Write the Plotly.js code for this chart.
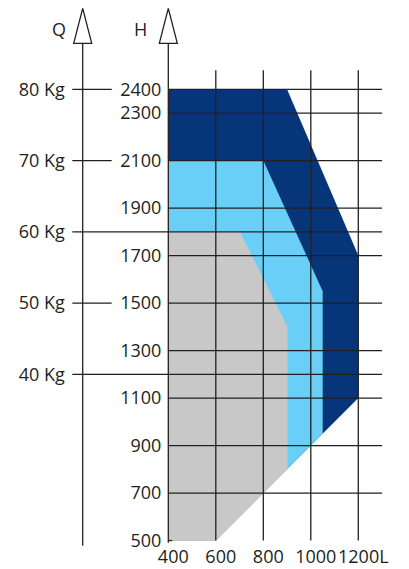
<!DOCTYPE html>
<html>
<head>
<meta charset="utf-8">
<script src="https://cdn.plot.ly/plotly-3.0.1.min.js"></script>
<style>html,body{margin:0;padding:0;background:#fff;}#chart{width:409px;height:569px;}</style>
</head>
<body>
<div id="chart"></div>
<script>
// ---- data ----
const L_TICKS  = [400, 600, 800, 1000, 1200];
const L_LABELS = ['400', '600', '800', '1000', '1200L'];
const H_TICKS  = [500, 700, 900, 1100, 1300, 1500, 1700, 1900, 2100, 2300, 2400];
const Q_TICKS  = [40, 50, 60, 70, 80];
const Q_LABELS = ['40 Kg', '50 Kg', '60 Kg', '70 Kg', '80 Kg'];
const Q_AT_H   = [1200, 1500, 1800, 2100, 2400];   // H level of each Q mark
const Q_LONG   = [40, 60];                         // Q marks whose line crosses the chart

// envelopes (L, H)
const DARK_L  = [400, 600, 1200, 1200, 900, 400];
const DARK_H  = [500, 500, 1100, 1700, 2400, 2400];
const LIGHT_L = [400, 600, 1050, 1050, 800, 400];
const LIGHT_H = [500, 500, 950, 1550, 2100, 2100];
const GRAY_L  = [400, 600, 900, 900, 700, 400];
const GRAY_H  = [500, 500, 800, 1400, 1800, 1800];

// ---- layout geometry ----
const W = 409, HT = 569;
const PX = 0.2375;                 // pixels per unit, both axes
const X0 = 168.3, Y500 = 540.55;   // pixel of L=400 and H=500
const xMin = 400 - X0 / PX, xMax = xMin + W / PX;
const yMax = 500 + Y500 / PX, yMin = yMax - HT / PX;
const px2L = p => xMin + p / PX;
const py2H = p => yMax - p / PX;
const qSlope = (Q_AT_H[4] - Q_AT_H[0]) / (Q_TICKS[4] - Q_TICKS[0]);
const h2q = h => Q_TICKS[0] + (h - Q_AT_H[0]) / qSlope;

const INK = '#231f20';
const FONT = {family: 'Open Sans, sans-serif', size: 18, color: INK};
const LW = 1.3;

const gridTop = 2480, gridRight = 1300;
const arrowBase = py2H(43.3), arrowTip = py2H(8.3), arrowHalf = 9 / PX;
const qAxisL = px2L(82.7);

const shapes = [];
const line = (x0, y0, x1, y1) => shapes.push({type: 'line', xref: 'x', yref: 'y', x0, y0, x1, y1, line: {color: INK, width: LW}});

H_TICKS.slice(1).forEach(h => line(400, h, gridRight, h));
L_TICKS.slice(1).forEach(l => line(l, H_TICKS[0], l, gridTop));
line(400, H_TICKS[0], 400 + 4 / PX, H_TICKS[0]);
// H axis and Q axis
line(400, py2H(542.7), 400, arrowBase);
line(qAxisL, py2H(545.7), qAxisL, arrowBase);
[400, qAxisL].forEach(l => shapes.push({
  type: 'path', xref: 'x', yref: 'y',
  path: `M${l - arrowHalf},${arrowBase} L${l},${arrowTip} L${l + arrowHalf},${arrowBase} Z`,
  fillcolor: '#fff', line: {color: INK, width: LW}
}));
// Q marks
Q_TICKS.forEach((q, i) => {
  const h = Q_AT_H[i];
  const right = Q_LONG.includes(q) ? gridRight : px2L(111.7);
  line(px2L(72.3), h, right, h);
});

const poly = (L, H, color, w) => ({
  type: 'scatter', mode: 'lines', x: L, y: H, fill: 'toself', fillcolor: color,
  line: {width: w, color: color}, hoverinfo: 'skip', showlegend: false
});

const data = [
  poly(DARK_L, DARK_H, '#07357a', 0),
  poly(LIGHT_L, LIGHT_H, '#6acff6', 0),
  poly(GRAY_L, GRAY_H, '#c8c8c9', 0.8),
  {type: 'scatter', x: [], y: [], yaxis: 'y2', showlegend: false}
];

const layout = {
  width: W, height: HT,
  margin: {l: 0, r: 0, t: 0, b: 0},
  paper_bgcolor: '#fff', plot_bgcolor: '#fff',
  showlegend: false, hovermode: false,
  font: FONT,
  xaxis: {
    range: [xMin, xMax], showgrid: false, zeroline: false, showline: false,
    anchor: 'free', position: (HT - Y500) / HT,
    tickvals: L_TICKS, ticktext: L_LABELS, ticks: '', ticklabelstandoff: 3, tickangle: 0,
    ticklabelshift: 5, tickfont: FONT, fixedrange: true
  },
  yaxis: {
    range: [yMin, yMax], showgrid: false, zeroline: false, showline: false,
    anchor: 'free', position: X0 / W, side: 'left',
    tickvals: H_TICKS, ticktext: H_TICKS.map(String), ticks: '', ticklabelstandoff: 7,
    tickfont: FONT, fixedrange: true
  },
  yaxis2: {
    overlaying: 'y', range: [h2q(yMin), h2q(yMax)], showgrid: false, zeroline: false, showline: false,
    anchor: 'free', position: 82.7 / W, side: 'left',
    tickvals: Q_TICKS, ticktext: Q_LABELS, ticks: '', ticklabelstandoff: 18,
    tickfont: FONT, fixedrange: true
  },
  shapes: shapes,
  annotations: [
    {xref: 'x', yref: 'y', x: px2L(59), y: py2H(28.5), text: 'Q', showarrow: false, font: FONT},
    {xref: 'x', yref: 'y', x: px2L(140.5), y: py2H(28.5), text: 'H', showarrow: false, font: FONT}
  ]
};

Plotly.newPlot('chart', data, layout, {staticPlot: true, displayModeBar: false});
</script>
</body>
</html>
